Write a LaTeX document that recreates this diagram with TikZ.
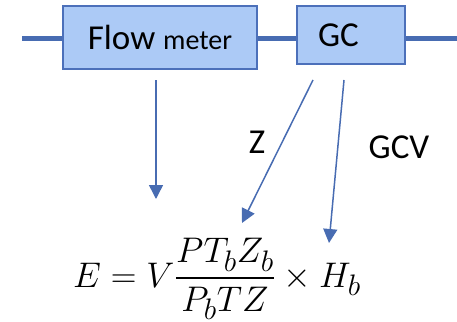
\documentclass[tikz,border=0pt]{standalone}
\usepackage{amsmath}
\usepackage{fontspec}
\setmainfont{Carlito}
\usetikzlibrary{arrows.meta,positioning}
\definecolor{pipeblue}{RGB}{72,108,178}
\definecolor{boxfill}{RGB}{172,202,246}
\definecolor{boxline}{RGB}{76,112,186}

\begin{document}
\begin{tikzpicture}[x=1pt,y=-1pt,
    unit/.style={draw=boxline, line width=1.5pt, fill=boxfill, inner sep=0pt, font=\fontsize{35}{40}\selectfont},
    pipe/.style={pipeblue, line width=5pt},
    feed/.style={pipeblue, line width=1.5pt, -{Triangle[length=14pt,width=14pt]}}]
    \useasboundingbox (0,0) rectangle (457,321);

    % --- Pipe line with the two units ---
    \coordinate (pipeL) at (22,39);
    \coordinate (pipeR) at (457,39);
    \draw[pipe] (pipeL) -- (pipeR);
    \node[unit, minimum width=194pt, minimum height=63pt] (flow) at (160,37.5)
        {Flow {\fontsize{28}{32}\selectfont meter}};
    \node[unit, minimum height=58pt, text width=66pt, align=left, inner xsep=21pt] (gc) at (351,35) {GC};

    % --- Energy equation ---
    \node[anchor=base west, inner sep=0pt, font=\fontsize{24.88}{30}\selectfont] (eq) at (73,287)
        {\scalebox{1.43}{$\displaystyle E = V\frac{PT_bZ_b}{P_bTZ}\times H_b$}};

    % --- Feeds into the equation ---
    \coordinate (vTail) at (156,80);
    \coordinate (vTip) at (156,199);
    \coordinate (zTail) at (313,80);
    \coordinate (zTip) at (242,223);
    \coordinate (hTail) at (344,80);
    \coordinate (hTip) at (329,243);
    \draw[feed] (vTail) -- (vTip);
    \draw[feed] (zTail) -- (zTip);
    \draw[feed] (hTail) -- (hTip);
    \node[font=\fontsize{35}{40}\selectfont] (zlab) at (257,142) {Z};
    \node[font=\fontsize{35}{40}\selectfont] (gcvlab) at (399,147) {GCV};
\end{tikzpicture}
\end{document}
